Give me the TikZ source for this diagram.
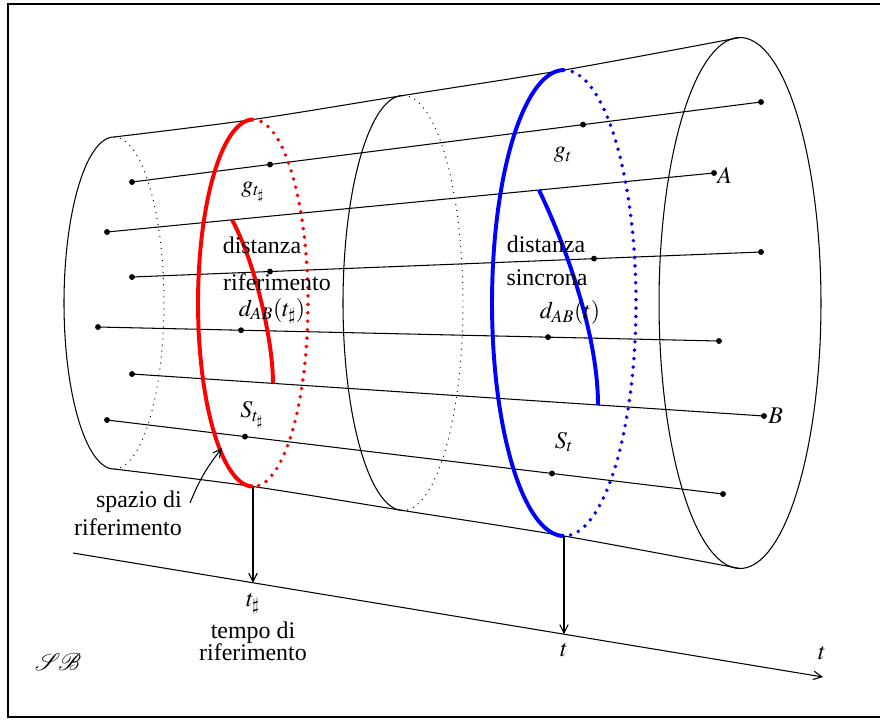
\documentclass[tikz,border=0pt]{standalone}
\usepackage{mathptmx}
\usepackage{mathrsfs}
\usepackage[no-math]{fontspec}
\setmainfont{Liberation Serif}
\usetikzlibrary{arrows.meta}

\begin{document}
\begin{tikzpicture}[x=0.025cm, y=-0.025cm, >={Straight Barb[length=6pt, width=6pt]},
    font=\fontsize{17}{20}\selectfont,
    linea/.style={line width=0.75pt},
    nascosta/.style={line width=0.7pt, dash pattern=on 0.7pt off 3.6pt},
    evento/.style={circle, fill=black, inner sep=0pt, minimum size=4.2pt},
    spesso/.style={line width=2.8pt},
    puntini/.style={line width=2.8pt, line cap=round, dash pattern=on 0pt off 6pt},
    testo/.style={inner sep=0pt}]
    \useasboundingbox (0,0) rectangle (880,719);

    % Cornice
    \draw[line width=1.6pt] (880,4) -- (8,4) -- (8,717) -- (880,717);

    % Cilindro
    \draw[linea] plot[smooth] coordinates {(114,137) (253,119.5) (403,95.5) (564,70) (740,37.5)};
    \draw[linea] plot[smooth] coordinates {(114,469) (253,486.5) (403,510.5) (564,536) (740,568.5)};
    \foreach \xc/\xr/\yr in {114/50/166, 403/60/207.5}{
        \draw[linea] plot[domain=90:270, samples=80] ({\xc+\xr*cos(\x)}, {303+\yr*sin(\x)});
        \draw[nascosta] plot[domain=-90:90, samples=80] ({\xc+\xr*cos(\x)}, {303+\yr*sin(\x)});
    }
    \draw[linea] plot[domain=0:360, samples=120] ({740+81*cos(\x)}, {303+265.5*sin(\x)});

    % Linee di universo
    \foreach \xa/\ya/\xb/\yb in {132/182/761/102, 107/232/714/173, 132/277/761/252,
                                 98/327/719/341, 132/374/764/416, 107/420/723/494}{
        \draw[linea] (\xa,\ya) -- (\xb,\yb);
        \node[evento] at (\xa,\ya) {};
        \node[evento] at (\xb,\yb) {};
    }
    \foreach \xp/\yp in {270/164.5, 583/124.6, 270/271.5, 594/258.6,
                         241/330.2, 548/337.1, 245/436.6, 552/473.5}
        \node[evento] at (\xp,\yp) {};

    % Sezioni spaziali
    \draw[spesso, red] plot[domain=90:270, samples=80] ({253+55*cos(\x)}, {303+183.5*sin(\x)});
    \draw[puntini, red] plot[domain=-90:90, samples=80] ({253+55*cos(\x)}, {303+183.5*sin(\x)});
    \draw[spesso, blue] plot[domain=90:270, samples=80] ({564+72*cos(\x)}, {303+233*sin(\x)});
    \draw[puntini, blue] plot[domain=-90:90, samples=80] ({564+72*cos(\x)}, {303+233*sin(\x)});

    % Distanze
    \draw[spesso, red] (232,219.8) .. controls (255,262) and (273,340) .. (273,383.4);
    \draw[spesso, blue] (539,190) .. controls (570,255) and (598,340) .. (598,405);

    % Asse dei tempi
    \coordinate (t0) at (73,553);
    \coordinate (t1) at (823,677);
    \draw[->, linea] (t0) -- (t1);
    \coordinate (rbase) at (253,486.5);
    \coordinate (rtime) at (253,582.8);
    \coordinate (bbase) at (564,536);
    \coordinate (btime) at (564,634.2);
    \draw[->, linea] (rbase) -- (rtime);
    \draw[->, linea] (bbase) -- (btime);

    % Etichette
    \node[testo] (gr) at (253,192) {$g_{t_\sharp}$};
    \node[testo, anchor=base] (dr1) at (262,253) {distanza};
    \node[testo, anchor=base] (dr2) at (277,290) {riferimento};
    \node[testo] (dr3) at (272,311) {$d_{AB}(t_\sharp)$};
    \node[testo] (Sr) at (252,415) {$S_{t_\sharp}$};
    \node[testo] (gb) at (563,155) {$g_t$};
    \node[testo, anchor=base] (db1) at (546,252) {distanza};
    \node[testo, anchor=base] (db2) at (547,285) {sincrona};
    \node[testo] (db3) at (570,313) {$d_{AB}(t)$};
    \node[testo] (Sb) at (564,442) {$S_t$};
    \node[testo, anchor=west] (A) at (717,175) {$A$};
    \node[testo, anchor=west] (B) at (768,416) {$B$};
    \node[testo, anchor=base east] (sp1) at (182,507) {spazio di};
    \node[testo, anchor=base east] (sp2) at (182,535) {riferimento};
    \coordinate (spfrom) at (190,503);
    \coordinate (spto) at (222,448);
    \draw[->, linea] (spfrom) to[bend left=8] (spto);
    \node[testo] (tr) at (253,604) {$t_\sharp$};
    \node[testo, anchor=base] (tp1) at (253,638) {tempo di};
    \node[testo, anchor=base] (tp2) at (253,660) {riferimento};
    \node[testo] (tb) at (564,650) {$t$};
    \node[testo] (tax) at (822,653) {$t$};
    \node[testo, font=\fontsize{16}{18}\selectfont] (firma) at (58,662) {$\mathscr{S}\!\mathscr{B}$};
\end{tikzpicture}
\end{document}
